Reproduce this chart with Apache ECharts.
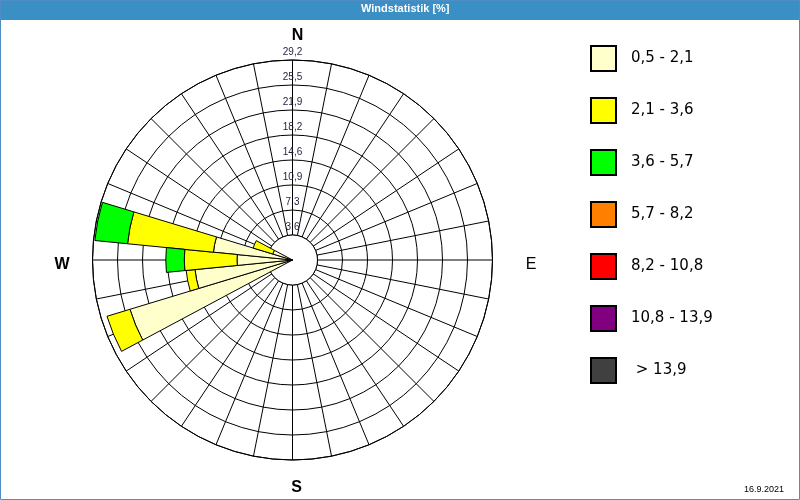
<!DOCTYPE html>
<html>
<head>
<meta charset="utf-8">
<script src="https://cdn.jsdelivr.net/npm/echarts@6/dist/echarts.min.js"></script>
<style>html,body{margin:0;padding:0;background:#fff}#c{width:800px;height:500px}</style>
</head>
<body>
<div id="c"></div>
<script>
// 32 wind directions (11.25° sectors), clockwise from north
const directions = ["N","NzO","NNO","NOzN","NO","NOzO","ONO","OzN","O","OzS","OSO","SOzO","SO","SOzS","SSO","SzO",
                    "S","SzW","SSW","SWzS","SW","SWzW","WSW","WzS","W","WzN","WNW","NWzW","NW","NWzN","NNW","NzW"];
// speed classes (legend) and colours
const speedClasses = ["0,5 - 2,1","2,1 - 3,6","3,6 - 5,7","5,7 - 8,2","8,2 - 10,8","10,8 - 13,9","> 13,9"];
const classColors = ["#FFFFCC","#FFFF00","#00FF00","#FF8000","#FF0000","#800080","#404040"];
// frequency [%] per direction for each speed class
const pct_05_21  = [null,null,null,null,null,null,null,null,null,null,null,null,null,null,null,null,null,null,null,null,null,null,24.8,14.3,8.1,11.6,3.0,null,null,null,null,null];
const pct_21_36  = [null,null,null,null,null,null,null,null,null,null,null,null,null,null,null,null,null,null,null,null,null,null,3.5,1.3,7.7,12.6,3.0,null,null,null,null,null];
const pct_36_57  = [null,null,null,null,null,null,null,null,null,null,null,null,null,null,null,null,null,null,null,null,null,null,null,null,2.7,4.8,null,null,null,null,null,null];
const pct_57_82  = [];
const pct_82_108 = [];
const pct_108_139 = [];
const pct_gt_139 = [];
const classData = [pct_05_21, pct_21_36, pct_36_57, pct_57_82, pct_82_108, pct_108_139, pct_gt_139];
// radial scale
const radiusStep = 3.65;
const radiusMax = 29.2;
const radiusTickLabels = ["3,6","7,3","10,9","14,6","18,2","21,9","25,5","29,2"];

const CX = 292.5, CY = 260, R = 200;
const holeR = R * radiusStep / radiusMax;

const chart = echarts.init(document.getElementById('c'), null, {renderer: 'canvas'});

const series = speedClasses.map((name, i) => ({
  name: name,
  type: 'bar',
  coordinateSystem: 'polar',
  polarIndex: 1,
  stack: 'wind',
  data: classData[i],
  barCategoryGap: '0%',
  itemStyle: {color: classColors[i], borderColor: '#000', borderWidth: 1},
  silent: true,
  z: 3
}));

chart.setOption({
  animation: false,
  backgroundColor: '#fff',
  title: {
    text: 'Windstatistik [%]',
    left: 361, top: 3, padding: 0,
    textStyle: {color: '#fff', fontSize: 11, fontWeight: 'bold', fontFamily: 'Liberation Sans'}
  },
  polar: [
    {center: [CX, CY], radius: R},
    {center: [CX, CY], radius: R}
  ],
  angleAxis: [
    {polarIndex: 0, type: 'value', min: 0, max: 360, interval: 11.25, startAngle: 90, clockwise: true,
     axisLine: {show: true, lineStyle: {color: '#000', width: 1}},
     axisTick: {show: false}, axisLabel: {show: false},
     splitLine: {show: true, lineStyle: {color: '#000', width: 1}}},
    {polarIndex: 1, type: 'category', data: directions, startAngle: 95.625, clockwise: true, boundaryGap: true,
     axisLine: {show: false}, axisTick: {show: false}, axisLabel: {show: false}, splitLine: {show: false}}
  ],
  radiusAxis: [
    {polarIndex: 0, type: 'value', min: 0, max: radiusMax, interval: radiusStep,
     axisLine: {show: false}, axisTick: {show: false},
     splitLine: {show: true, lineStyle: {color: '#000', width: 1}},
     axisLabel: {
       show: true, margin: 0, align: 'center', verticalAlign: 'bottom', padding: [0, 0, 3, 0],
       fontSize: 10, fontFamily: 'Liberation Sans', color: '#1e1e3c',
       formatter: v => { const k = Math.round(v / radiusStep) - 1; return k >= 0 ? radiusTickLabels[k] : ''; }
     }},
    {polarIndex: 1, type: 'value', min: 0, max: radiusMax, show: false}
  ],
  legend: {
    orient: 'vertical', left: 590, top: 45, padding: 0,
    itemWidth: 25, itemHeight: 25, itemGap: 25, icon: 'rect',
    data: speedClasses, selectedMode: false,
    textStyle: {fontSize: 15, fontFamily: 'DejaVu Sans', color: '#000', padding: [0, 0, 0, 10]},
    formatter: n => n.charAt(0) === '>' ? ' ' + n : n
  },
  graphic: [
    {type: 'rect', z: 0, silent: true, shape: {x: 0, y: 0, width: 800, height: 20}, style: {fill: '#3a8fc4'}},
    {type: 'rect', z: 10, silent: true, shape: {x: 0.5, y: 0.5, width: 799, height: 499}, style: {fill: null, stroke: '#4f8ec4', lineWidth: 1}},
    {type: 'circle', z: 1, silent: true, shape: {cx: CX, cy: CY, r: holeR}, style: {fill: '#fff', stroke: '#000', lineWidth: 1}},
    {type: 'text', z: 5, silent: true, x: 297.5, y: 36, style: {text: 'N', font: 'bold 16px "Liberation Sans"', fill: '#000', align: 'center', verticalAlign: 'middle'}},
    {type: 'text', z: 5, silent: true, x: 62, y: 265, style: {text: 'W', font: 'bold 16px "Liberation Sans"', fill: '#000', align: 'center', verticalAlign: 'middle'}},
    {type: 'text', z: 5, silent: true, x: 531, y: 265, style: {text: 'E', font: '16px "Liberation Sans"', fill: '#000', align: 'center', verticalAlign: 'middle'}},
    {type: 'text', z: 5, silent: true, x: 296.5, y: 488, style: {text: 'S', font: 'bold 16px "Liberation Sans"', fill: '#000', align: 'center', verticalAlign: 'middle'}},
    {type: 'text', z: 5, silent: true, x: 784, y: 490, style: {text: '16.9.2021', font: '9px "Liberation Sans"', fill: '#000', align: 'right', verticalAlign: 'middle'}}
  ],
  series: series
});
</script>
</body>
</html>
